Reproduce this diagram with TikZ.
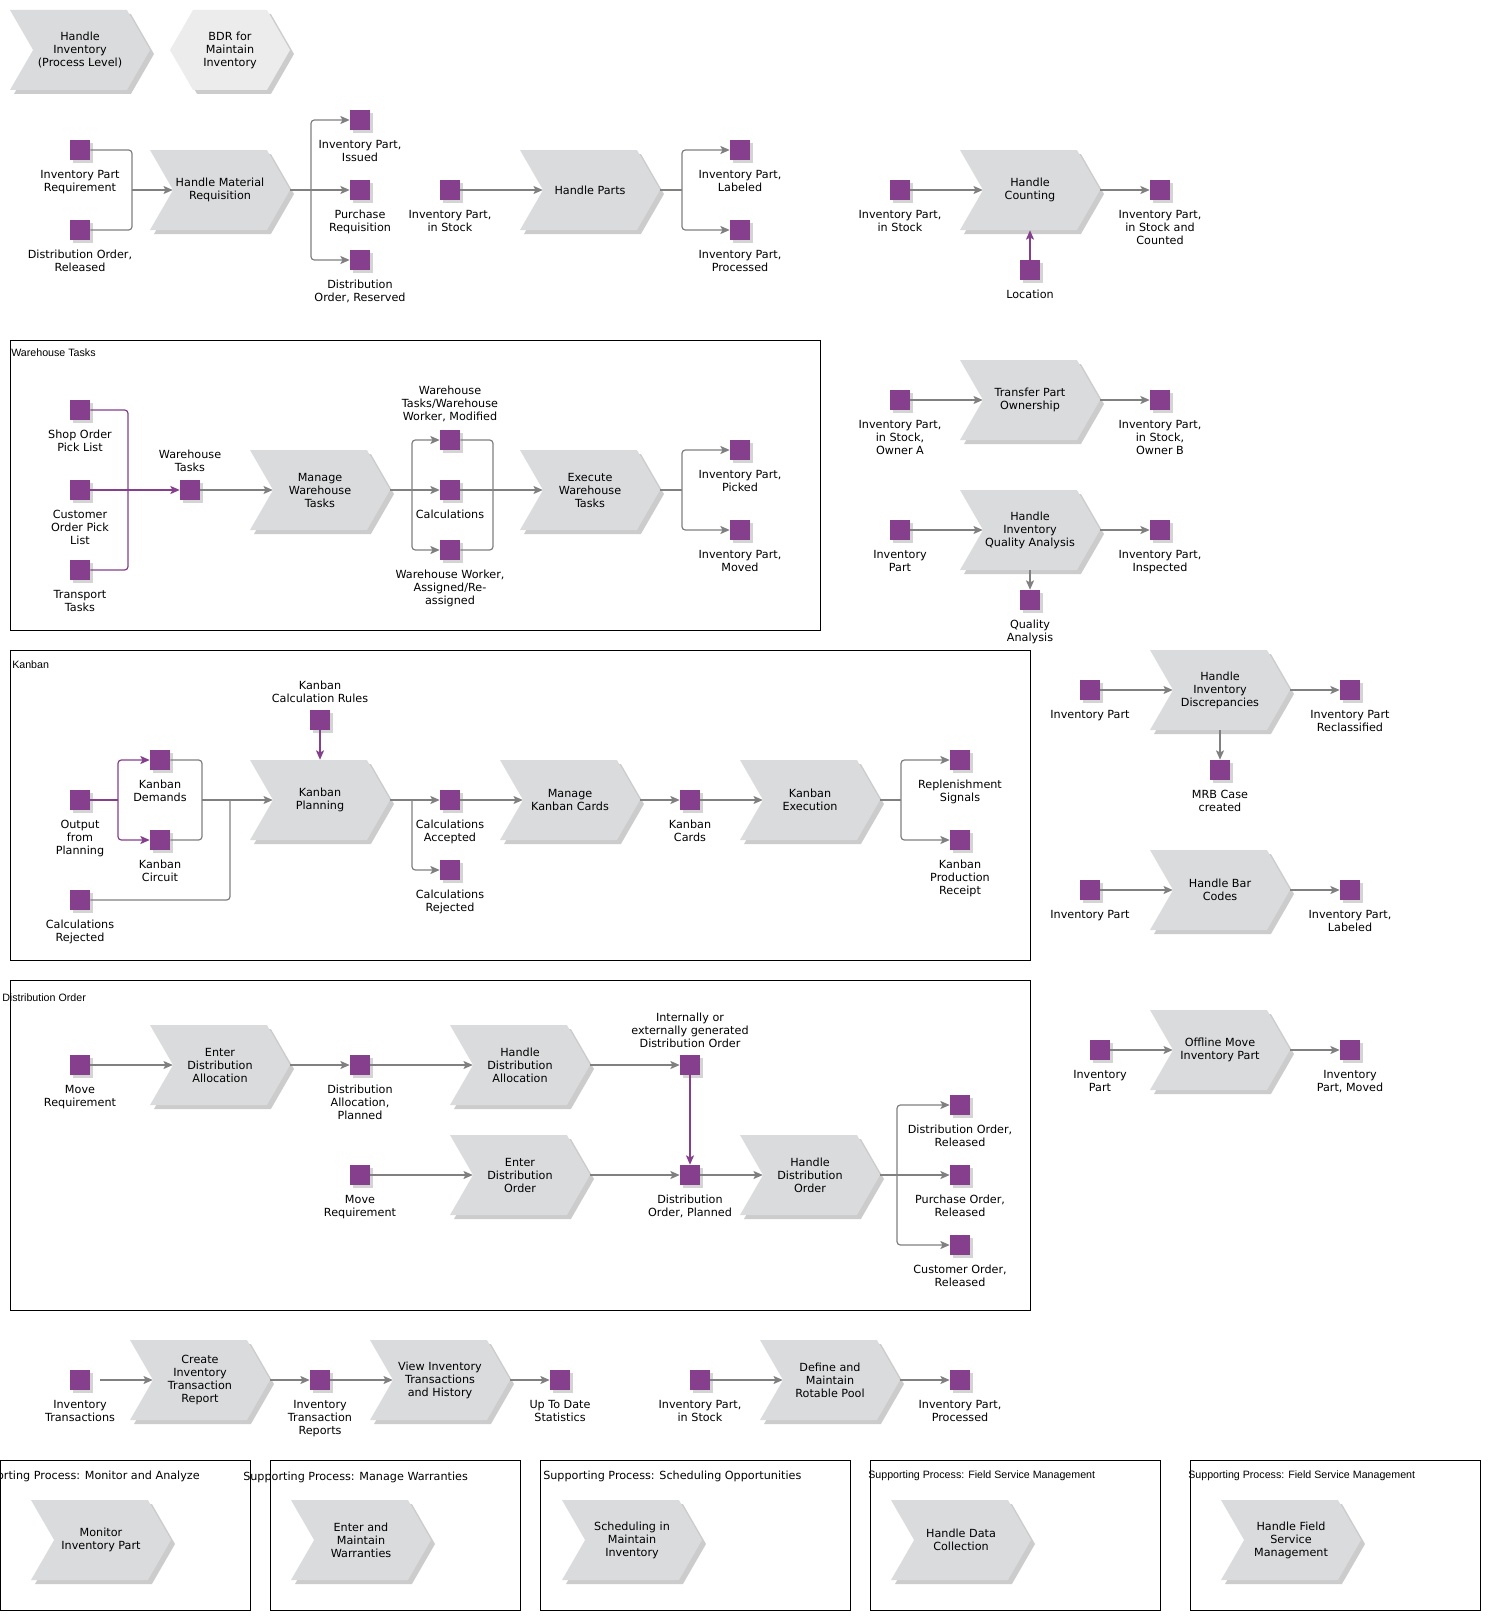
\documentclass[tikz,border=0pt]{standalone}
\usepackage{fontspec}
\usepackage{tikz}
\usetikzlibrary{arrows.meta,positioning,shapes.symbols,shadows}
\newfontfamily\epcfont{DejaVu Sans}
\newfontfamily\boxfont{Liberation Sans}
\definecolor{figline}{RGB}{128,128,128}
\definecolor{figproc}{RGB}{218,219,221}
\definecolor{figbdr}{RGB}{236,236,236}
\definecolor{figevt}{RGB}{134,63,141}
\definecolor{figshade}{RGB}{170,170,170}
\tikzset{
  fn/.style   ={font=\epcfont\fontsize{8.4}{9.75}\selectfont},
  prc/.style  ={fn, signal, signal to=east, signal from=west, signal pointer angle=120,
                fill=figproc, minimum width=105pt, minimum height=60pt, inner sep=0pt, align=center,
                drop shadow={shadow xshift=3pt, shadow yshift=-3pt, fill=figshade, opacity=.6}},
  bdr/.style  ={prc, signal to=east and west, signal from=nowhere, fill=figbdr, minimum width=90pt},
  ev/.style   ={rectangle, fill=figevt, minimum size=15pt, inner sep=0pt,
                drop shadow={shadow xshift=2pt, shadow yshift=-2pt, fill=figshade, opacity=.5}},
  lab/.style  ={fn, align=center, inner sep=1pt},
  ln/.style   ={draw=figline, line width=0.9pt, rounded corners=2.5pt},
  ptr/.style  ={ln, -{Stealth[length=7pt,width=6pt,inset=1.5pt]}},
  pln/.style  ={ln, draw=figevt},
  pptr/.style ={ptr, draw=figevt},
  frm/.style  ={draw=black, line width=0.75pt},
  ttl/.style  ={font=\boxfont\fontsize{8}{9.6}\selectfont, anchor=west, inner sep=0pt},
  ttlv/.style ={fn, anchor=west, inner sep=0pt},
}

\begin{document}
\begin{tikzpicture}[x=0.75pt,y=-0.75pt]
  \useasboundingbox (0,0) rectangle (1490,1620);
  \fill[white] (0,0) rectangle (1490,1620);
  % top row
  \node[prc] (hinv) at (80,50) {Handle\\Inventory\\(Process Level)};
  \node[bdr] (bdr) at (230,50) {BDR for\\Maintain\\Inventory};
  \node[ev] (ipr) at (80,150) {};
  \node[lab,below=6pt of ipr] (ipr-l) {Inventory Part\\Requirement};
  \node[ev] (dor) at (80,230) {};
  \node[lab,below=6pt of dor] (dor-l) {Distribution Order,\\Released};
  \node[prc] (hmr) at (220,190) {Handle Material\\Requisition};
  \node[ev] (iss) at (360,120) {};
  \node[lab,below=6pt of iss] (iss-l) {Inventory Part,\\Issued};
  \node[ev] (preq) at (360,190) {};
  \node[lab,below=6pt of preq] (preq-l) {Purchase\\Requisition};
  \node[ev] (dres) at (360,260) {};
  \node[lab,below=6pt of dres] (dres-l) {Distribution\\Order, Reserved};
  \coordinate (j1) at (132,190);
  \coordinate (b1) at (311,190);
  \draw[ln] (ipr) -| (j1);
  \draw[ln] (dor) -| (j1);
  \draw[ptr] (j1) -- (hmr.west);
  \draw[ln] (hmr.east) -- (b1);
  \draw[ptr] (b1) |- (iss);
  \draw[ptr] (b1) -- (preq);
  \draw[ptr] (b1) |- (dres);
  \node[ev] (ips1) at (450,190) {};
  \node[lab,below=6pt of ips1] (ips1-l) {Inventory Part,\\in Stock};
  \node[prc] (hp) at (590,190) {Handle Parts};
  \node[ev] (lbd1) at (740,150) {};
  \node[lab,below=6pt of lbd1] (lbd1-l) {Inventory Part,\\Labeled};
  \node[ev] (prd1) at (740,230) {};
  \node[lab,below=6pt of prd1] (prd1-l) {Inventory Part,\\Processed};
  \coordinate (b2) at (682,190);
  \draw[ptr] (ips1) -- (hp.west);
  \draw[ln] (hp.east) -- (b2);
  \draw[ptr] (b2) |- (lbd1);
  \draw[ptr] (b2) |- (prd1);
  \node[ev] (ips2) at (900,190) {};
  \node[lab,below=6pt of ips2] (ips2-l) {Inventory Part,\\in Stock};
  \node[prc] (hc) at (1030,190) {Handle\\Counting};
  \node[ev] (cnt) at (1160,190) {};
  \node[lab,below=6pt of cnt] (cnt-l) {Inventory Part,\\in Stock and\\Counted};
  \node[ev] (loc) at (1030,270) {};
  \node[lab,below=6pt of loc] (loc-l) {Location};
  \draw[ptr] (ips2) -- (hc.west);
  \draw[ptr] (hc.east) -- (cnt);
  \draw[pptr] (loc) -- (hc.south);
  % warehouse tasks
  \draw[frm] (10,340) rectangle (820,630);
  \node[ttl] (wh-t) at (11,353) {Warehouse Tasks};
  \node[ev] (sopl) at (80,410) {};
  \node[lab,below=6pt of sopl] (sopl-l) {Shop Order\\Pick List};
  \node[ev] (copl) at (80,490) {};
  \node[lab,below=6pt of copl] (copl-l) {Customer\\Order Pick\\List};
  \node[ev] (trt) at (80,570) {};
  \node[lab,below=6pt of trt] (trt-l) {Transport\\Tasks};
  \node[ev] (wt) at (190,490) {};
  \node[lab,above=5pt of wt] (wt-l) {Warehouse\\Tasks};
  \node[prc] (mwt) at (320,490) {Manage\\Warehouse\\Tasks};
  \node[ev] (wtm) at (450,440) {};
  \node[lab,above=5pt of wtm] (wtm-l) {Warehouse\\Tasks/Warehouse\\Worker, Modified};
  \node[ev] (calc) at (450,490) {};
  \node[lab,below=6pt of calc] (calc-l) {Calculations};
  \node[ev] (wwa) at (450,550) {};
  \node[lab,below=6pt of wwa] (wwa-l) {Warehouse Worker,\\Assigned/Re-\\assigned};
  \node[prc] (ewt) at (590,490) {Execute\\Warehouse\\Tasks};
  \node[ev] (pck) at (740,450) {};
  \node[lab,below=6pt of pck] (pck-l) {Inventory Part,\\Picked};
  \node[ev] (mvd) at (740,530) {};
  \node[lab,below=6pt of mvd] (mvd-l) {Inventory Part,\\Moved};
  \coordinate (j2) at (128,490);
  \coordinate (b3) at (412,490);
  \coordinate (j3) at (493,490);
  \coordinate (b4) at (682,490);
  \draw[pln] (sopl) -| (j2);
  \draw[pln] (trt) -| (j2);
  \draw[pln] (copl) -- (j2);
  \draw[pptr] (j2) -- (wt);
  \draw[ptr] (wt) -- (mwt.west);
  \draw[ln] (mwt.east) -- (b3);
  \draw[ptr] (b3) |- (wtm);
  \draw[ptr] (b3) -- (calc);
  \draw[ptr] (b3) |- (wwa);
  \draw[ln] (wtm) -| (j3);
  \draw[ln] (wwa) -| (j3);
  \draw[ln] (calc) -- (j3);
  \draw[ptr] (j3) -- (ewt.west);
  \draw[ln] (ewt.east) -- (b4);
  \draw[ptr] (b4) |- (pck);
  \draw[ptr] (b4) |- (mvd);
  % ownership and quality
  \node[ev] (ipa) at (900,400) {};
  \node[lab,below=6pt of ipa] (ipa-l) {Inventory Part,\\in Stock,\\Owner A};
  \node[prc] (tpo) at (1030,400) {Transfer Part\\Ownership};
  \node[ev] (ipb) at (1160,400) {};
  \node[lab,below=6pt of ipb] (ipb-l) {Inventory Part,\\in Stock,\\Owner B};
  \draw[ptr] (ipa) -- (tpo.west);
  \draw[ptr] (tpo.east) -- (ipb);
  \node[ev] (ipq) at (900,530) {};
  \node[lab,below=6pt of ipq] (ipq-l) {Inventory\\Part};
  \node[prc] (hiqa) at (1030,530) {Handle\\Inventory\\Quality Analysis};
  \node[ev] (insp) at (1160,530) {};
  \node[lab,below=6pt of insp] (insp-l) {Inventory Part,\\Inspected};
  \node[ev] (qa) at (1030,600) {};
  \node[lab,below=6pt of qa] (qa-l) {Quality\\Analysis};
  \draw[ptr] (ipq) -- (hiqa.west);
  \draw[ptr] (hiqa.east) -- (insp);
  \draw[ptr] (hiqa.south) -- (qa);
  % kanban
  \draw[frm] (10,650) rectangle (1030,960);
  \node[ttl] (kb-t) at (12,665) {Kanban};
  \node[ev] (ofp) at (80,800) {};
  \node[lab,below=6pt of ofp] (ofp-l) {Output\\from\\Planning};
  \node[ev] (kdm) at (160,760) {};
  \node[lab,below=6pt of kdm] (kdm-l) {Kanban\\Demands};
  \node[ev] (kcir) at (160,840) {};
  \node[lab,below=6pt of kcir] (kcir-l) {Kanban\\Circuit};
  \node[ev] (crj1) at (80,900) {};
  \node[lab,below=6pt of crj1] (crj1-l) {Calculations\\Rejected};
  \node[ev] (kcr) at (320,720) {};
  \node[lab,above=4pt of kcr] (kcr-l) {Kanban\\Calculation Rules};
  \node[prc] (kpl) at (320,800) {Kanban\\Planning};
  \node[ev] (cacc) at (450,800) {};
  \node[lab,below=6pt of cacc] (cacc-l) {Calculations\\Accepted};
  \node[ev] (crj2) at (450,870) {};
  \node[lab,below=6pt of crj2] (crj2-l) {Calculations\\Rejected};
  \node[prc] (mkc) at (570,800) {Manage\\Kanban Cards};
  \node[ev] (kcd) at (690,800) {};
  \node[lab,below=6pt of kcd] (kcd-l) {Kanban\\Cards};
  \node[prc] (kex) at (810,800) {Kanban\\Execution};
  \node[ev] (rps) at (960,760) {};
  \node[lab,below=6pt of rps] (rps-l) {Replenishment\\Signals};
  \node[ev] (kprc) at (960,840) {};
  \node[lab,below=6pt of kprc] (kprc-l) {Kanban\\Production\\Receipt};
  \coordinate (b5) at (118,800);
  \coordinate (j4) at (202,800);
  \coordinate (j5) at (230,800);
  \coordinate (b6) at (412,800);
  \coordinate (b7) at (901,800);
  \draw[pln] (ofp) -- (b5);
  \draw[pptr] (b5) |- (kdm);
  \draw[pptr] (b5) |- (kcir);
  \draw[ln] (kdm) -| (j4);
  \draw[ln] (kcir) -| (j4);
  \draw[ln] (crj1) -| (j5);
  \draw[ptr] (j4) -- (kpl.west);
  \draw[pptr] (kcr) -- (kpl.north);
  \draw[ptr] (kpl.east) -- (cacc);
  \draw[ptr] (b6) |- (crj2);
  \draw[ptr] (cacc) -- (mkc.west);
  \draw[ptr] (mkc.east) -- (kcd);
  \draw[ptr] (kcd) -- (kex.west);
  \draw[ln] (kex.east) -- (b7);
  \draw[ptr] (b7) |- (rps);
  \draw[ptr] (b7) |- (kprc);
  % discrepancies, bar codes, offline move
  \node[ev] (ipd) at (1090,690) {};
  \node[lab,below=6pt of ipd] (ipd-l) {Inventory Part};
  \node[prc] (hid) at (1220,690) {Handle\\Inventory\\Discrepancies};
  \node[ev] (rcl) at (1350,690) {};
  \node[lab,below=6pt of rcl] (rcl-l) {Inventory Part\\Reclassified};
  \node[ev] (mrb) at (1220,770) {};
  \node[lab,below=6pt of mrb] (mrb-l) {MRB Case\\created};
  \draw[ptr] (ipd) -- (hid.west);
  \draw[ptr] (hid.east) -- (rcl);
  \draw[ptr] (hid.south) -- (mrb);
  \node[ev] (ipbc) at (1090,890) {};
  \node[lab,below=6pt of ipbc] (ipbc-l) {Inventory Part};
  \node[prc] (hbc) at (1220,890) {Handle Bar\\Codes};
  \node[ev] (lbd2) at (1350,890) {};
  \node[lab,below=6pt of lbd2] (lbd2-l) {Inventory Part,\\Labeled};
  \draw[ptr] (ipbc) -- (hbc.west);
  \draw[ptr] (hbc.east) -- (lbd2);
  \node[ev] (ipm) at (1100,1050) {};
  \node[lab,below=6pt of ipm] (ipm-l) {Inventory\\Part};
  \node[prc] (omi) at (1220,1050) {Offline Move\\Inventory Part};
  \node[ev] (mvd2) at (1350,1050) {};
  \node[lab,below=6pt of mvd2] (mvd2-l) {Inventory\\Part, Moved};
  \draw[ptr] (ipm) -- (omi.west);
  \draw[ptr] (omi.east) -- (mvd2);
  % distribution order
  \draw[frm] (10,980) rectangle (1030,1310);
  \node[ttl] (do-t) at (2,998) {Distribution Order};
  \node[ev] (mrq1) at (80,1065) {};
  \node[lab,below=6pt of mrq1] (mrq1-l) {Move\\Requirement};
  \node[prc] (eda) at (220,1065) {Enter\\Distribution\\Allocation};
  \node[ev] (dap) at (360,1065) {};
  \node[lab,below=6pt of dap] (dap-l) {Distribution\\Allocation,\\Planned};
  \node[prc] (hda) at (520,1065) {Handle\\Distribution\\Allocation};
  \node[ev] (igo) at (690,1065) {};
  \node[lab,above=4pt of igo] (igo-l) {Internally or\\externally generated\\Distribution Order};
  \node[ev] (mrq2) at (360,1175) {};
  \node[lab,below=6pt of mrq2] (mrq2-l) {Move\\Requirement};
  \node[prc] (edo) at (520,1175) {Enter\\Distribution\\Order};
  \node[ev] (dop) at (690,1175) {};
  \node[lab,below=6pt of dop] (dop-l) {Distribution\\Order, Planned};
  \node[prc] (hdo) at (810,1175) {Handle\\Distribution\\Order};
  \node[ev] (dor2) at (960,1105) {};
  \node[lab,below=6pt of dor2] (dor2-l) {Distribution Order,\\Released};
  \node[ev] (por) at (960,1175) {};
  \node[lab,below=6pt of por] (por-l) {Purchase Order,\\Released};
  \node[ev] (cor) at (960,1245) {};
  \node[lab,below=6pt of cor] (cor-l) {Customer Order,\\Released};
  \coordinate (b8) at (897,1175);
  \draw[ptr] (mrq1) -- (eda.west);
  \draw[ptr] (eda.east) -- (dap);
  \draw[ptr] (dap) -- (hda.west);
  \draw[ptr] (hda.east) -- (igo);
  \draw[ptr] (mrq2) -- (edo.west);
  \draw[ptr] (edo.east) -- (dop);
  \draw[pptr] (igo) -- (dop);
  \draw[ptr] (dop) -- (hdo.west);
  \draw[ln] (hdo.east) -- (b8);
  \draw[ptr] (b8) |- (dor2);
  \draw[ptr] (b8) -- (por);
  \draw[ptr] (b8) |- (cor);
  % transactions and rotable pool
  \node[ev] (itx) at (80,1380) {};
  \node[lab,below=6pt of itx] (itx-l) {Inventory\\Transactions};
  \node[prc] (citr) at (200,1380) {Create\\Inventory\\Transaction\\Report};
  \node[ev] (itr) at (320,1380) {};
  \node[lab,below=6pt of itr] (itr-l) {Inventory\\Transaction\\Reports};
  \node[prc] (vith) at (440,1380) {View Inventory\\Transactions\\and History};
  \node[ev] (utd) at (560,1380) {};
  \node[lab,below=6pt of utd] (utd-l) {Up To Date\\Statistics};
  \node[ev] (ips3) at (700,1380) {};
  \node[lab,below=6pt of ips3] (ips3-l) {Inventory Part,\\in Stock};
  \node[prc] (dmrp) at (830,1380) {Define and\\Maintain\\Rotable Pool};
  \node[ev] (prd2) at (960,1380) {};
  \node[lab,below=6pt of prd2] (prd2-l) {Inventory Part,\\Processed};
  \draw[ptr,shorten <=7pt] (itx) -- (citr.west);
  \draw[ptr] (citr.east) -- (itr);
  \draw[ptr] (itr) -- (vith.west);
  \draw[ptr] (vith.east) -- (utd);
  \draw[ptr] (ips3) -- (dmrp.west);
  \draw[ptr] (dmrp.east) -- (prd2);
  % supporting processes
  \draw[frm] (0,1460) rectangle (250,1610);
  \node[ttlv,anchor=east] (sp1-t) at (200,1476) {Supporting Process: Monitor and Analyze};
  \node[prc] (mip) at (101,1540) {Monitor\\Inventory Part};
  \draw[frm] (270,1460) rectangle (520,1610);
  \node[ttlv] (sp2-t) at (243,1477) {Supporting Process: Manage Warranties};
  \node[prc] (emw) at (361,1540) {Enter and\\Maintain\\Warranties};
  \draw[frm] (540,1460) rectangle (850,1610);
  \node[ttlv] (sp3-t) at (543,1476) {Supporting Process: Scheduling Opportunities};
  \node[prc] (smi) at (632,1540) {Scheduling in\\Maintain\\Inventory};
  \draw[frm] (870,1460) rectangle (1160,1610);
  \node[ttl] (sp4-t) at (868,1476) {Supporting Process: Field Service Management};
  \node[prc] (hdc) at (961,1540) {Handle Data\\Collection};
  \draw[frm] (1190,1460) rectangle (1480,1610);
  \node[ttl] (sp5-t) at (1188,1476) {Supporting Process: Field Service Management};
  \node[prc] (hfs) at (1291,1540) {Handle Field\\Service\\Management};
\end{tikzpicture}
\end{document}
